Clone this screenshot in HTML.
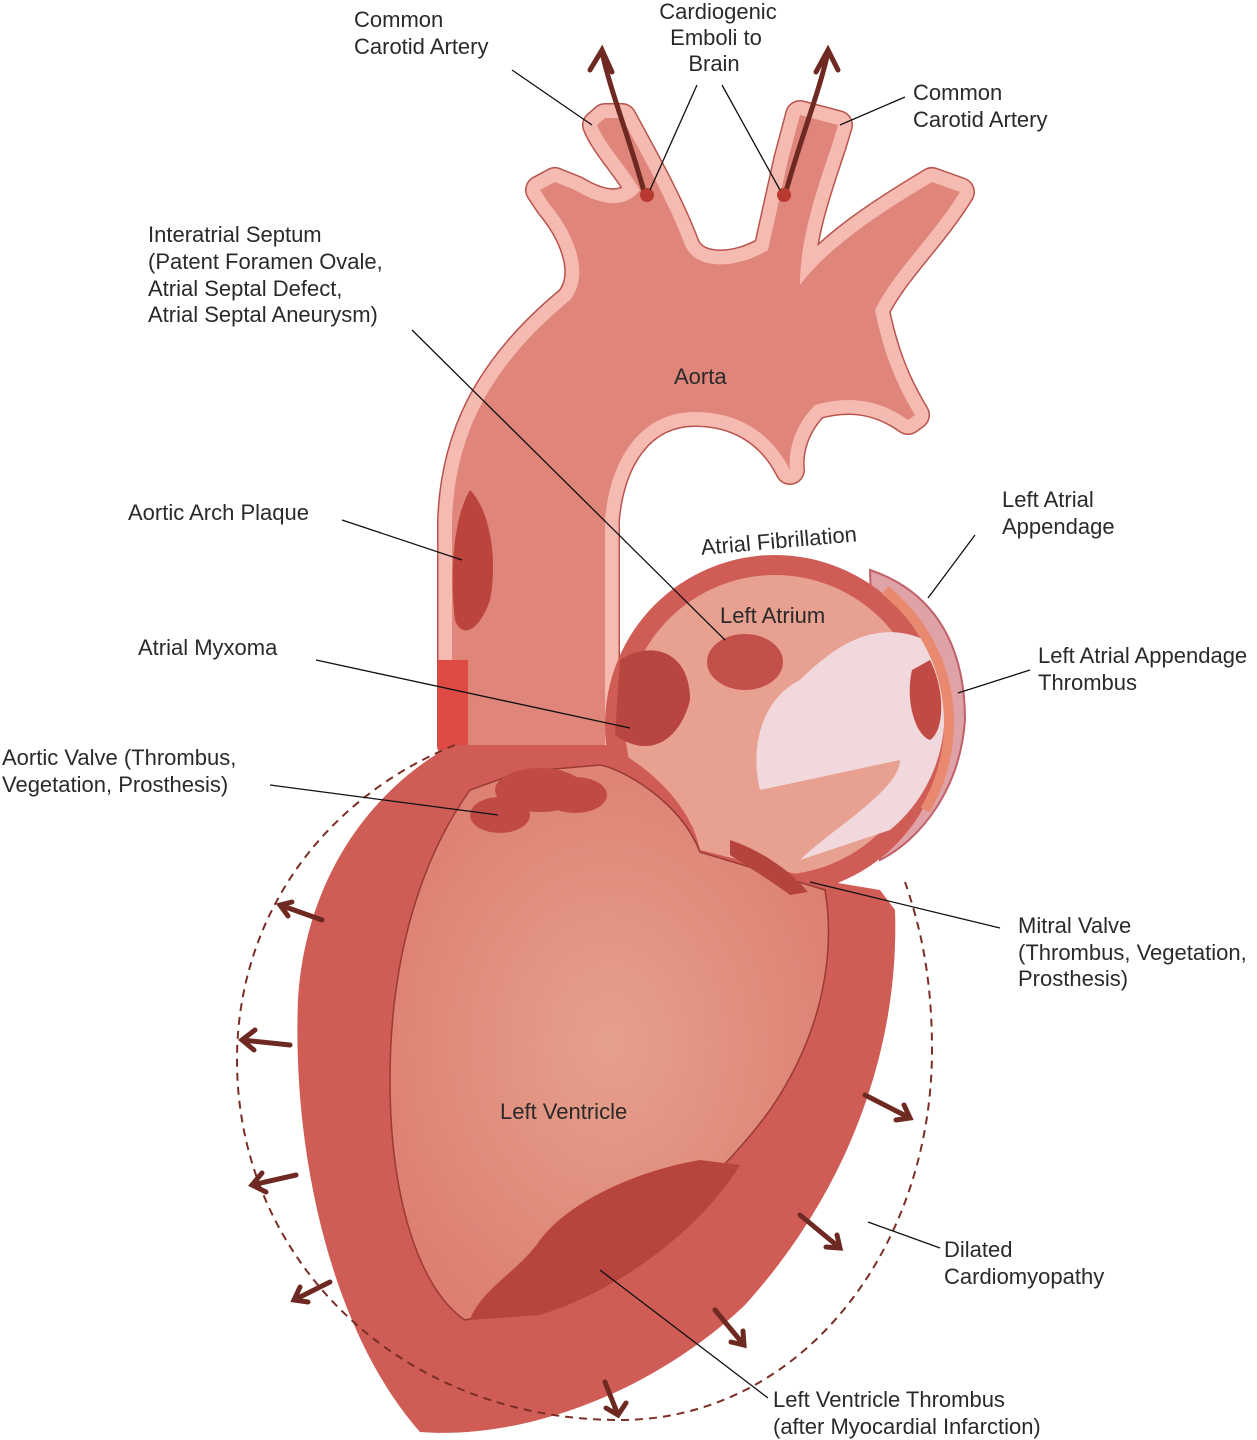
<!DOCTYPE html>
<html><head><meta charset="utf-8"><style>
html,body{margin:0;padding:0;background:#fff}
svg{display:block}
text{font-family:"Liberation Sans",sans-serif;font-size:22px;fill:#2a2a2a}
</style></head><body>
<svg width="1257" height="1440" viewBox="0 0 1257 1440" xmlns="http://www.w3.org/2000/svg">
<defs>
<path id="ao" d="M 452,745 L 452,520 C 455,440 485,370 570,300 C 590,275 575,235 550,205 L 540,190 L 555,182 L 575,190 C 600,205 625,210 640,190 C 625,165 605,145 597,125 L 605,118 L 622,118 C 645,160 670,205 685,245 C 695,270 735,270 768,250 L 788,160 L 800,115 L 838,125 L 832,145 C 815,195 800,240 800,285 C 830,245 885,210 932,182 L 960,192 C 930,240 895,270 875,310 C 885,360 900,390 915,415 L 908,420 C 880,400 850,395 815,405 C 795,425 788,450 790,470 C 770,430 735,412 695,412 C 640,412 610,460 605,520 L 605,745 Z"/>
<radialGradient id="lv" cx="0.5" cy="0.5" r="0.6"><stop offset="0" stop-color="#e6a08c"/><stop offset="1" stop-color="#dc7e70"/></radialGradient>
</defs>
<use href="#ao" fill="none" stroke="#b9544c" stroke-width="30" stroke-linejoin="round"/>
<use href="#ao" fill="none" stroke="#f5bab2" stroke-width="27" stroke-linejoin="round"/>
<use href="#ao" fill="#df8579"/>
<rect x="438" y="660" width="30" height="90" fill="#e04a44"/>
<path d="M 470,490 C 490,510 498,560 490,600 C 480,630 462,640 455,620 C 450,580 452,520 470,490 Z" fill="#bb443d"/>
<path d="M 870,570 C 930,590 965,640 965,720 C 960,790 920,840 880,860 Z" fill="#dfa2a6" stroke="#c06068" stroke-width="2"/>
<circle cx="775" cy="725" r="170" fill="#cf5c55"/>
<circle cx="775" cy="725" r="150" fill="#e8a090"/>
<path d="M 930,650 A 150 150 0 0 1 890,830 L 800,860 C 830,830 900,790 900,760 L 760,790 C 750,750 760,700 800,680 C 840,640 880,620 925,640 Z" fill="#f0d8dc"/>
<path d="M 885,590 A 170 170 0 0 1 925,810" fill="none" stroke="#e98a70" stroke-width="10"/>
<path d="M 930,660 C 945,690 945,730 930,740 C 915,735 905,700 912,670 Z" fill="#c24a44"/>
<path d="M 620,660 C 650,640 690,650 690,700 C 680,740 650,760 615,735 Z" fill="#b8453f"/>
<ellipse cx="745" cy="662" rx="38" ry="28" fill="#c4504a"/>
<path d="M 452,745 C 370,790 305,880 298,1000 C 292,1150 330,1330 420,1432 C 520,1440 650,1395 745,1305 C 840,1200 900,1060 895,910 L 880,890 L 820,880 L 700,850 C 690,800 640,760 605,745 Z" fill="#cf5c55"/>
<path d="M 470,790 C 420,860 390,960 390,1080 C 390,1200 420,1290 465,1320 C 560,1300 690,1220 770,1110 C 825,1030 835,950 825,890 L 700,852 C 680,800 620,768 600,765 L 520,772 Z" fill="url(#lv)" stroke="#9a3a34" stroke-width="1.5"/>
<path d="M 470,1320 C 480,1290 520,1270 540,1240 C 570,1200 640,1170 700,1160 L 740,1165 C 700,1230 620,1290 540,1315 Z" fill="#b8443e"/>
<ellipse cx="540" cy="790" rx="45" ry="22" fill="#c04a44"/><ellipse cx="575" cy="795" rx="32" ry="18" fill="#c04a44"/><ellipse cx="500" cy="815" rx="30" ry="18" fill="#c04a44"/>
<path d="M 730,840 C 760,850 790,870 808,892 L 790,895 C 770,880 745,865 730,855 Z" fill="#b5443d"/>
<path d="M 455,745 C 320,800 237,920 237,1060 C 237,1260 400,1420 620,1420 C 800,1420 932,1250 932,1050 C 932,970 918,920 905,882" fill="none" stroke="#7a2e26" stroke-width="2" stroke-dasharray="8,6"/>
<g stroke="#6e2a22" stroke-width="5" fill="none" stroke-linecap="round">
<path d="M 322,920 L 280,905 M 292,902 L 280,905 L 288,916"/>
<path d="M 290,1045 L 242,1040 M 255,1030 L 242,1040 L 254,1050"/>
<path d="M 296,1175 L 252,1185 M 262,1173 L 252,1185 L 266,1192"/>
<path d="M 330,1282 L 294,1300 M 300,1287 L 294,1300 L 308,1302"/>
<path d="M 605,1382 L 618,1415 M 606,1408 L 618,1415 L 626,1403"/>
<path d="M 715,1310 L 744,1345 M 731,1342 L 744,1345 L 743,1331"/>
<path d="M 800,1215 L 840,1248 M 826,1247 L 840,1248 L 837,1235"/>
<path d="M 865,1095 L 910,1118 M 896,1120 L 910,1118 L 904,1105"/>
<path d="M 645,195 C 630,140 610,90 602,52 M 590,70 L 602,50 L 612,72"/>
<path d="M 785,195 C 800,140 820,90 828,52 M 816,72 L 828,50 L 838,70"/>
</g>
<circle cx="647" cy="195" r="7" fill="#b83a30"/><circle cx="784" cy="195" r="7" fill="#b83a30"/>
<g stroke="#111" stroke-width="1.3">
<line x1="512" y1="70" x2="592" y2="125"/>
<line x1="697" y1="85" x2="650" y2="190"/>
<line x1="722" y1="85" x2="780" y2="190"/>
<line x1="905" y1="97" x2="840" y2="125"/>
<line x1="412" y1="330" x2="725" y2="640"/>
<line x1="342" y1="520" x2="462" y2="560"/>
<line x1="975" y1="535" x2="928" y2="598"/>
<line x1="316" y1="660" x2="630" y2="728"/>
<line x1="1030" y1="670" x2="958" y2="693"/>
<line x1="270" y1="785" x2="498" y2="815"/>
<line x1="1000" y1="928" x2="810" y2="882"/>
<line x1="940" y1="1248" x2="868" y2="1222"/>
<line x1="768" y1="1398" x2="600" y2="1270"/>
</g>
<text x="354" y="27">Common</text><text x="354" y="54">Carotid Artery</text>
<text x="718" y="19" text-anchor="middle">Cardiogenic</text><text x="716" y="45" text-anchor="middle">Emboli to</text><text x="714" y="71" text-anchor="middle">Brain</text>
<text x="913" y="100">Common</text><text x="913" y="127">Carotid Artery</text>
<text x="148" y="242">Interatrial Septum</text><text x="148" y="269">(Patent Foramen Ovale,</text><text x="148" y="296">Atrial Septal Defect,</text><text x="148" y="322">Atrial Septal Aneurysm)</text>
<text x="674" y="384">Aorta</text>
<text x="128" y="520">Aortic Arch Plaque</text>
<text x="1002" y="507">Left Atrial</text><text x="1002" y="534">Appendage</text>
<text x="700" y="548" transform="rotate(-5 780 535)">Atrial Fibrillation</text>
<text x="720" y="623">Left Atrium</text>
<text x="138" y="655">Atrial Myxoma</text>
<text x="1038" y="663">Left Atrial Appendage</text><text x="1038" y="690">Thrombus</text>
<text x="2" y="765">Aortic Valve (Thrombus,</text><text x="2" y="792">Vegetation, Prosthesis)</text>
<text x="1018" y="933">Mitral Valve</text><text x="1018" y="960">(Thrombus, Vegetation,</text><text x="1018" y="986">Prosthesis)</text>
<text x="500" y="1119">Left Ventricle</text>
<text x="944" y="1257">Dilated</text><text x="944" y="1284">Cardiomyopathy</text>
<text x="773" y="1407">Left Ventricle Thrombus</text><text x="773" y="1434">(after Myocardial Infarction)</text>
</svg>
</body></html>
